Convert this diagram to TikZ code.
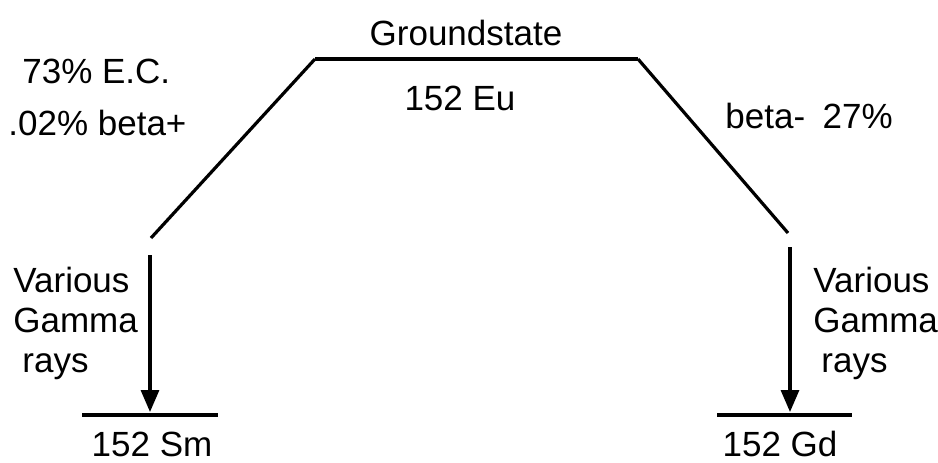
\documentclass[tikz,border=0pt]{standalone}
\usepackage{fontspec}
\setmainfont{Liberation Sans}
\usetikzlibrary{arrows.meta}
\begin{document}
\begin{tikzpicture}[x=0.5pt,y=-0.5pt,
  level/.style={line width=1.6pt},
  decay/.style={line width=1.6pt},
  gamma/.style={line width=1.6pt,-{Triangle[length=11pt,width=9pt]}},
  lbl/.style={inner sep=0pt,font=\fontsize{17.5}{20}\selectfont},
  lw/.style={lbl,anchor=base west},
  lc/.style={lbl,anchor=base}]
\useasboundingbox (0,0) rectangle (938,462);
% ground state of 152 Eu
\coordinate (eul) at (315,59);
\coordinate (eur) at (638,59);
\draw[level] (eul) -- (eur);
\node[lc] (gs) at (466,45) {Groundstate};
\node[lc] (eu) at (460,110) {152 Eu};
% branch to 152 Sm
\coordinate (smtop) at (151,238);
\draw[decay] (eul) -- (smtop);
\node[lw] (ec) at (22,83) {73\% E.C.};
\node[lw] (bp) at (8,135) {.02\% beta+};
\coordinate (gsA) at (150,255);
\coordinate (smlvl) at (150,412);
\coordinate (sml) at (82,415);
\coordinate (smr) at (218,415);
\draw[level] (sml) -- (smr);
\draw[gamma] (gsA) -- (smlvl);
\node[lw] (v1) at (13,292) {Various};
\node[lw] (g1) at (13,332) {Gamma};
\node[lw] (r1) at (22,372) {rays};
\node[lc] (sm) at (152,456) {152 Sm};
% branch to 152 Gd
\coordinate (gdtop) at (788,233);
\draw[decay] (eur) -- (gdtop);
\node[lw] (bm) at (725,128) {beta-\hspace{0.5em}27\%};
\coordinate (gsB) at (790,247);
\coordinate (gdlvl) at (790,412);
\coordinate (gdl) at (717,415);
\coordinate (gdr) at (852,415);
\draw[level] (gdl) -- (gdr);
\draw[gamma] (gsB) -- (gdlvl);
\node[lw] (v2) at (813,292) {Various};
\node[lw] (g2) at (813,332) {Gamma};
\node[lw] (r2) at (821,372) {rays};
\node[lc] (gd) at (780,456) {152 Gd};
\end{tikzpicture}
\end{document}
